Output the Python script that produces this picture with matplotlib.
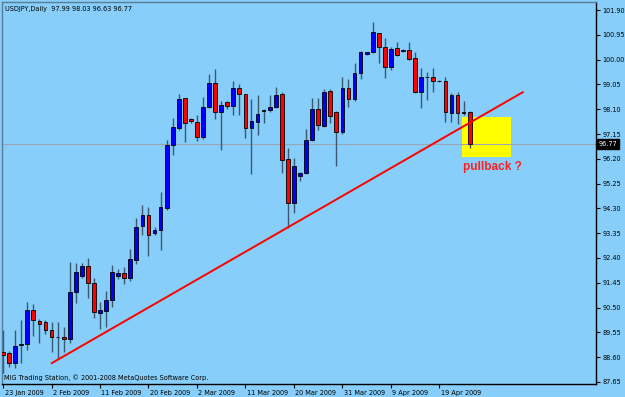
import matplotlib
matplotlib.use('Agg')
import matplotlib.pyplot as plt
import matplotlib.transforms as mtransforms
from matplotlib.patches import Rectangle
import numpy as np

# ---------------- data ----------------
chart_title = "USDJPY,Daily  97.99 98.03 96.63 96.77"
footer_text = "MIG Trading Station, \u00a9 2001-2008 MetaQuotes Software Corp."

opens = [88.80, 88.75, 88.36, 89.08, 89.09, 90.41, 89.98, 89.96, 89.64, 89.37,
         89.36, 89.31, 91.08, 91.72, 92.10, 91.43, 90.30, 90.37, 90.80, 91.70,
         91.82, 91.64, 92.31, 93.61, 94.05, 93.37, 93.47, 94.31, 96.73, 97.37,
         98.52, 97.72, 97.62, 97.03, 98.18, 99.11, 98.00, 98.36, 98.22, 98.92,
         98.68, 97.37, 97.62, 98.05, 98.07, 98.20, 98.68, 96.18, 94.52, 95.55,
         95.64, 96.92, 98.10, 97.47, 98.80, 98.00, 97.21, 98.92, 98.48, 99.47,
         100.20, 100.30, 101.01, 100.49, 99.73, 100.43, 100.33, 100.37, 100.05, 98.77,
         99.33, 99.32, 99.19, 99.18, 97.95, 98.64, 97.99, 97.99]
highs = [89.64, 88.85, 89.64, 90.02, 90.72, 90.64, 90.05, 90.02, 89.93, 89.96,
         89.77, 92.25, 92.20, 92.20, 92.39, 91.64, 90.72, 91.15, 92.13, 91.98,
         92.06, 92.75, 93.92, 94.43, 94.36, 93.57, 94.92, 96.92, 97.77, 98.68,
         98.55, 97.77, 97.88, 98.58, 99.44, 99.64, 98.41, 98.41, 99.18, 99.05,
         98.70, 98.49, 98.64, 98.10, 98.64, 98.96, 98.77, 96.60, 96.22, 95.70,
         97.33, 98.54, 98.54, 98.87, 98.87, 98.02, 99.34, 99.24, 99.88, 100.33,
         100.31, 101.43, 101.03, 100.82, 100.49, 100.69, 100.41, 100.69, 100.30, 99.67,
         99.54, 99.67, 99.22, 99.34, 98.71, 98.75, 98.41, 98.03]
lows = [87.99, 88.22, 88.17, 88.36, 88.87, 89.41, 89.13, 89.49, 88.78, 88.52,
        88.81, 89.15, 90.69, 91.62, 90.85, 90.09, 89.67, 89.77, 90.51, 91.59,
        91.40, 91.52, 92.18, 93.28, 92.47, 93.28, 92.70, 94.24, 96.34, 97.30,
        96.85, 97.56, 96.88, 96.96, 98.13, 97.71, 96.54, 98.10, 97.88, 97.88,
        97.01, 95.62, 97.11, 97.56, 98.00, 98.16, 95.64, 93.54, 94.13, 95.36,
        95.61, 96.88, 97.30, 97.42, 97.56, 95.92, 97.16, 98.20, 98.41, 99.24,
        100.18, 100.24, 99.86, 99.31, 99.60, 100.14, 100.31, 99.98, 98.71, 98.13,
        98.45, 98.75, 99.14, 97.60, 97.62, 97.52, 97.88, 96.63]
closes = [88.68, 88.36, 89.04, 89.10, 90.41, 90.02, 89.87, 89.64, 89.36, 89.36,
          89.28, 91.08, 91.85, 92.10, 91.43, 90.32, 90.39, 90.80, 91.85, 91.82,
          91.64, 92.36, 93.57, 94.05, 93.28, 93.47, 94.34, 96.73, 97.41, 98.48,
          97.56, 97.65, 97.03, 98.18, 99.11, 98.00, 98.26, 98.22, 98.92, 98.68,
          97.37, 97.65, 97.92, 98.07, 98.20, 98.64, 96.15, 94.52, 95.91, 95.64,
          96.92, 98.10, 97.49, 98.77, 97.85, 97.21, 98.92, 98.48, 99.50, 100.29,
          100.30, 101.05, 100.49, 99.73, 100.41, 100.18, 100.38, 100.02, 98.77, 99.34,
          99.35, 99.18, 99.17, 97.98, 98.64, 97.94, 97.97, 96.77]

date_labels = ["23 Jan 2009", "2 Feb 2009", "11 Feb 2009", "20 Feb 2009", "2 Mar 2009",
               "11 Mar 2009", "20 Mar 2009", "31 Mar 2009", "9 Apr 2009", "19 Apr 2009"]
price_ticks = [87.65, 88.60, 89.55, 90.50, 91.45, 92.40, 93.35, 94.30,
               95.25, 96.20, 97.15, 98.10, 99.05, 100.00, 100.95, 101.90]
last_price = 96.77

trend_x = [7.9, 85.9]
trend_y = [88.35, 98.77]
box_x = [75.8, 83.8]
box_y = [96.28, 97.79]
note_text = "pullback ?"
note_pos = [75.9, 95.77]

# ---------------- drawing ----------------
BG = '#87CEFA'
W, H = 625, 397
fig = plt.figure(figsize=(W / 100, H / 100), dpi=100, facecolor=BG)
ax = fig.add_axes([2 / W, 13 / H, 594 / W, 382 / H])
ax.set_facecolor(BG)

o = np.array(opens); h = np.array(highs); l = np.array(lows); c = np.array(closes)
x = np.arange(len(o))
up = c >= o

ax.vlines(x, l, h, color='#3a5870', lw=1.0, zorder=3)
bottoms = np.minimum(o, c)
heights = np.maximum(np.abs(c - o), 0.015)
colors = np.where(np.abs(c - o) < 0.03, 'black', np.where(up, '#0000FF', '#FF0000'))
ax.bar(x, heights, bottom=bottoms, width=0.62, color=colors,
       edgecolor='black', linewidth=0.6, zorder=4)

ax.add_patch(Rectangle((box_x[0], box_y[0]), box_x[1] - box_x[0], box_y[1] - box_y[0],
                       facecolor='#FFFF00', edgecolor='none', zorder=1.5))
ax.axhline(last_price, color='#9aa6b6', lw=0.8, zorder=2)
ax.plot(trend_x, trend_y, color='#FF0000', lw=1.4, zorder=5, solid_capstyle='butt')
ax.text(note_pos[0], note_pos[1], note_text, color='#FF2020', fontsize=8.5,
        fontweight='bold', family='Liberation Sans', ha='left', va='baseline', zorder=6)

ax.set_xlim(-0.17, 97.85)
ax.set_ylim(87.57, 102.21)

# right price axis
ax.yaxis.tick_right()
ax.set_yticks(price_ticks)
ax.set_yticklabels(['%.2f' % p for p in price_ticks])
ax.tick_params(axis='y', direction='out', length=3, width=0.8, colors='black',
               labelsize=4.7, pad=1.5)

# bottom date axis
ax.set_xticks(np.arange(0, 8 * len(date_labels), 8))
ax.set_xticklabels(date_labels)
ax.tick_params(axis='x', direction='out', length=3, width=0.8, colors='black',
               labelsize=4.7, pad=1.0)
offset = mtransforms.ScaledTranslation(1.5 / 100, 0, fig.dpi_scale_trans)
for lab in ax.get_xticklabels():
    lab.set_horizontalalignment('left')
    lab.set_transform(lab.get_transform() + offset)

for side in ['right', 'bottom']:
    ax.spines[side].set_color('black')
    ax.spines[side].set_linewidth(1.0)
for side in ['top', 'left']:
    ax.spines[side].set_color('#5d7d96')
    ax.spines[side].set_linewidth(1.0)

# last price tag
trans = mtransforms.blended_transform_factory(ax.transAxes, ax.transData)
ax.text(1.0 + 3 / 594, last_price, '%.2f' % last_price, transform=trans,
        fontsize=4.7, color='white', ha='left', va='center', zorder=10,
        bbox=dict(boxstyle='square,pad=0.25', facecolor='black', edgecolor='black'),
        clip_on=False)

fig.text(5 / W, (H - 10.5) / H, chart_title, fontsize=4.7, color='black',
         ha='left', va='baseline')
fig.text(4 / W, (H - 380) / H, footer_text, fontsize=4.7, color='black',
         ha='left', va='baseline')

fig.savefig('out.png', dpi=100, facecolor=BG)
